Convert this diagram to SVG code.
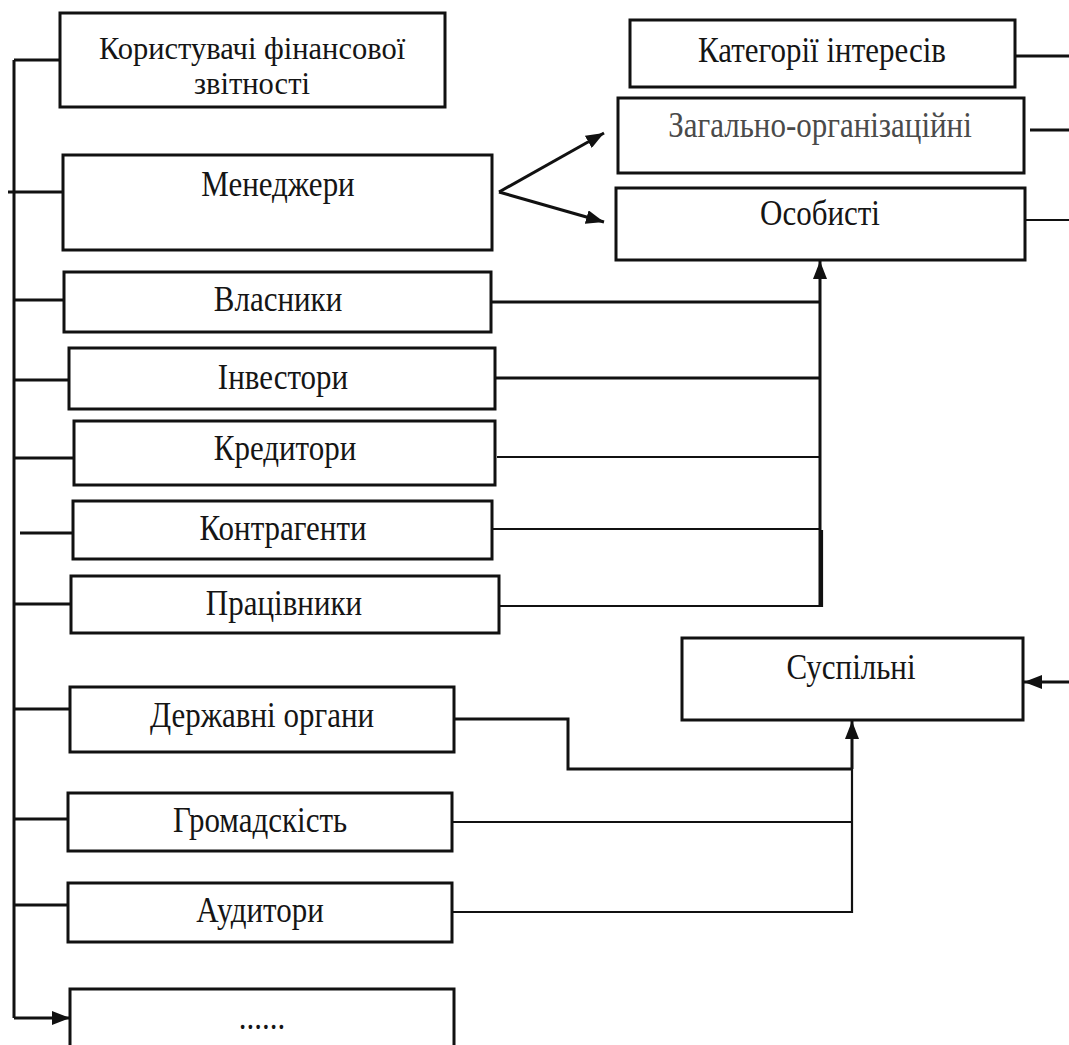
<svg xmlns="http://www.w3.org/2000/svg" width="1069" height="1045" viewBox="0 0 1069 1045">
<style>
.box{fill:#fff;stroke:#111;stroke-width:3}
.t{font-family:"Liberation Serif","Times New Roman",serif;font-size:31px;fill:#151515;text-anchor:middle}
.g{fill:#4a4a4a}
.c{fill:none;stroke:#111;stroke-width:3}
.c2{fill:none;stroke:#111;stroke-width:2.2}
</style>
<defs>
<marker id="ah" viewBox="0 0 18 14" refX="18" refY="7" markerUnits="userSpaceOnUse" markerWidth="18" markerHeight="14" orient="auto">
<path d="M0,0 L18,7 L0,14 z" fill="#111"/>
</marker>
</defs>
<rect width="1069" height="1045" fill="#fff"/>

<g id="connectors">
<path class="c" d="M14,60 V1018"/>
<path class="c" d="M14,60 H60"/>
<path class="c" d="M8,192 H63"/>
<path class="c" d="M14,300 H70"/>
<path class="c" d="M14,380 H69"/>
<path class="c" d="M14,458 H74"/>
<path class="c" d="M20,533 H73"/>
<path class="c" d="M14,604 H71"/>
<path class="c" d="M14,709 H70"/>
<path class="c" d="M14,819 H68"/>
<path class="c" d="M14,905 H68"/>
<path class="c" d="M14,1018 H70" marker-end="url(#ah)"/>

<path class="c" d="M499,192 L604,133" marker-end="url(#ah)"/>
<path class="c" d="M499,192 L604,222" marker-end="url(#ah)"/>

<path class="c" d="M491,302 H820"/>
<path class="c" d="M495,378 H820"/>
<path class="c2" d="M497,457 H820"/>
<path class="c2" d="M492,529 H820"/>
<path class="c2" d="M499,606 H822 V530"/>
<path class="c" d="M820,606 V261" marker-end="url(#ah)"/>

<path class="c" d="M1015,56 H1069"/>
<path class="c" d="M1030,130 H1069"/>
<path class="c2" d="M1025,220 H1069"/>
<path class="c" d="M1069,682 H1024" marker-end="url(#ah)"/>

<path class="c" d="M454,719 H568 V769 H852"/>
<path class="c2" d="M452,822 H852"/>
<path class="c2" d="M452,912 H852 V769"/>
<path class="c" d="M852,769 V721" marker-end="url(#ah)"/>
</g>

<g id="users">
<rect class="box" x="60" y="13" width="385" height="94"/>
<text class="t" style="font-size:30.5px" x="252" y="59">Користувачі фінансової</text>
<text class="t" style="font-size:30.5px" x="252" y="94">звітності</text>
</g>
<g id="managers">
<rect class="box" x="63" y="155" width="429" height="95"/>
<text class="t" transform="translate(278,196) scale(1,1.18)">Менеджери</text>
</g>
<g id="owners">
<rect class="box" x="64" y="272" width="427" height="60"/>
<text class="t" transform="translate(278,311) scale(1,1.18)">Власники</text>
</g>
<g id="investors">
<rect class="box" x="69" y="348" width="426" height="61"/>
<text class="t" transform="translate(283,389) scale(1,1.18)">Інвестори</text>
</g>
<g id="creditors">
<rect class="box" x="74" y="421" width="421" height="64"/>
<text class="t" transform="translate(285,460) scale(1,1.18)">Кредитори</text>
</g>
<g id="counterparties">
<rect class="box" x="73" y="501" width="419" height="58"/>
<text class="t" transform="translate(283,540) scale(1,1.18)">Контрагенти</text>
</g>
<g id="employees">
<rect class="box" x="71" y="576" width="428" height="57"/>
<text class="t" transform="translate(284,615) scale(1,1.18)">Працівники</text>
</g>
<g id="government">
<rect class="box" x="70" y="687" width="384" height="65"/>
<text class="t" transform="translate(262,727) scale(1,1.18)">Державні органи</text>
</g>
<g id="public">
<rect class="box" x="68" y="793" width="384" height="58"/>
<text class="t" transform="translate(260,832) scale(1,1.18)">Громадскість</text>
</g>
<g id="auditors">
<rect class="box" x="68" y="883" width="384" height="59"/>
<text class="t" transform="translate(260,922) scale(1,1.18)">Аудитори</text>
</g>
<g id="others">
<rect class="box" x="70" y="989" width="384" height="70"/>
<text class="t" transform="translate(262,1029) scale(1,1.18)">......</text>
</g>

<g id="categories">
<rect class="box" x="630" y="20" width="385" height="67"/>
<text class="t" transform="translate(822,62) scale(1,1.18)">Категорії інтересів</text>
</g>
<g id="general">
<rect class="box" x="618" y="98" width="406" height="75"/>
<text class="t g" transform="translate(820,137) scale(1,1.18)">Загально-організаційні</text>
</g>
<g id="personal">
<rect class="box" x="616" y="188" width="409" height="72"/>
<text class="t" transform="translate(820,225) scale(1,1.18)">Особисті</text>
</g>
<g id="social">
<rect class="box" x="682" y="638" width="341" height="82"/>
<text class="t" transform="translate(851,679) scale(1,1.18)">Суспільні</text>
</g>
</svg>
